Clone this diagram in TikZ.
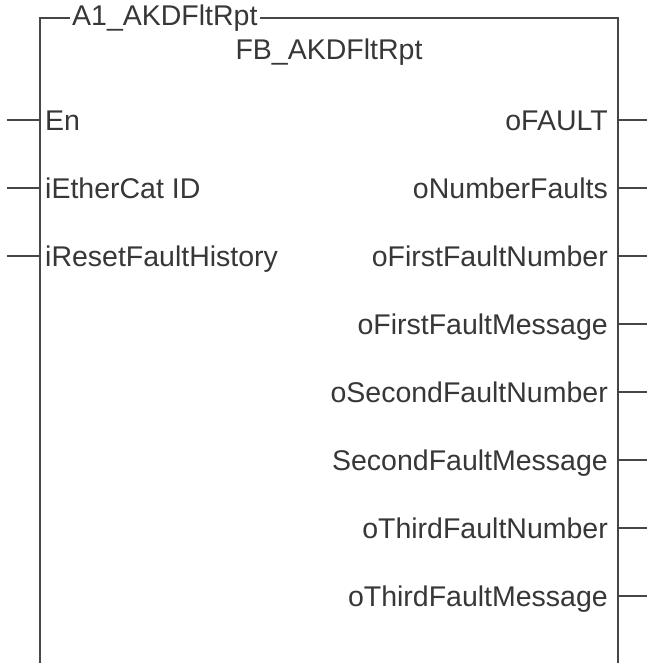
\documentclass[tikz,border=0pt]{standalone}
\usepackage{fontspec}
\setmainfont{Liberation Sans}
\definecolor{lncol}{RGB}{70,70,70}
\definecolor{txtcol}{RGB}{55,55,55}
\begin{document}
\begin{tikzpicture}[x=1pt,y=-1pt,
  ln/.style={draw=lncol,line width=1.1pt},
  lbl/.style={inner sep=0pt,text=txtcol,font=\fontsize{28.5}{34}\selectfont},
  inpin/.style={lbl,anchor=base west},
  outpin/.style={lbl,anchor=base east}]
\useasboundingbox (0,0) rectangle (647,663);
% box frame (open at bottom)
\coordinate (bl) at (40,663);
\coordinate (tl) at (40,18);
\coordinate (tr) at (618,18);
\coordinate (br) at (618,663);
\draw[ln] (bl) -- (tl) -- (tr) -- (br);
\node[lbl,fill=white,inner xsep=2pt,inner ysep=3pt,anchor=west] (inst) at (70,18) {A1\_AKDFltRpt};
\node[lbl] (type) at (329,52) {FB\_AKDFltRpt};
% inputs
\foreach \nm/\txt/\y in {en/En/120, eid/iEtherCat ID/188, rst/iResetFaultHistory/256}{
  \coordinate (\nm-e) at (7,\y);
  \coordinate (\nm-b) at (40,\y);
  \node[inpin] (\nm) at (45,\y+10.5) {\txt};
  \draw[ln] (\nm-e) -- (\nm-b);
}
% outputs
\foreach \nm/\txt/\y in {o1/oFAULT/120, o2/oNumberFaults/188, o3/oFirstFaultNumber/256, o4/oFirstFaultMessage/324, o5/oSecondFaultNumber/392, o6/SecondFaultMessage/460, o7/oThirdFaultNumber/528, o8/oThirdFaultMessage/596}{
  \coordinate (\nm-b) at (618,\y);
  \coordinate (\nm-e) at (647,\y);
  \node[outpin] (\nm) at (608,\y+10.5) {\txt};
  \draw[ln] (\nm-b) -- (\nm-e);
}
\end{tikzpicture}
\end{document}
